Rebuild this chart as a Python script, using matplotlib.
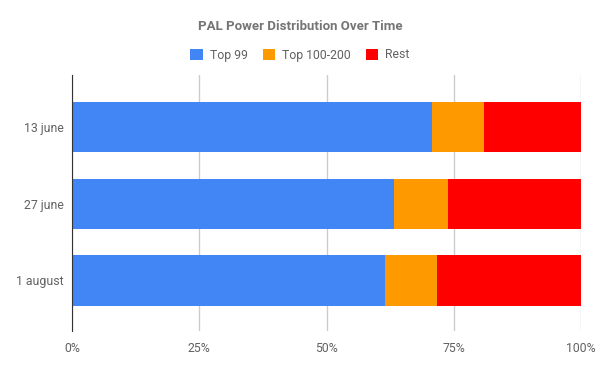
import matplotlib.pyplot as plt
from matplotlib.patches import Patch

categories = ['13 june', '27 june', '1 august']
top99 = [70.7, 63.2, 61.5]
top100_200 = [10.2, 10.7, 10.2]
rest = [19.1, 26.1, 28.3]

series_names = ['Top 99', 'Top 100-200', 'Rest']
colors = ['#4285f4', '#ff9900', '#ff0000']

plt.rcParams['font.family'] = ['Roboto', 'DejaVu Sans']

fig = plt.figure(figsize=(6, 3.71), dpi=100)
ax = fig.add_axes([72 / 600, 1 - 331 / 371, 509 / 600, 256 / 371])

y = list(range(len(categories)))
left = [0] * len(categories)
for vals, col in zip([top99, top100_200, rest], colors):
    ax.barh(y, vals, left=left, height=0.655, color=col, linewidth=0, zorder=2)
    left = [a + b for a, b in zip(left, vals)]

ax.set_xlim(0, 100)
ax.set_ylim(2.66, -0.68)
ax.set_yticks(y)
ax.set_yticklabels(categories)
ax.set_xticks([0, 25, 50, 75, 100])
ax.set_xticklabels(['0%', '25%', '50%', '75%', '100%'])
ax.tick_params(axis='both', length=0, labelsize=8.8, labelcolor='#616161')
ax.tick_params(axis='x', pad=8)
ax.tick_params(axis='y', pad=6)
ax.grid(axis='x', color='#cccccc', linewidth=1, zorder=0)
for s in ['top', 'right', 'bottom']:
    ax.spines[s].set_visible(False)
ax.spines['left'].set_color('#333333')
ax.spines['left'].set_zorder(3)

fig.text(0.5, 1 - 27 / 371, 'PAL Power Distribution Over Time', ha='center', va='center',
         fontsize=9.5, fontweight='bold', color='#757575')

handles = [Patch(facecolor=c, edgecolor='none', label=n) for c, n in zip(colors, series_names)]
fig.legend(handles=handles, loc='center', bbox_to_anchor=(0.5, 1 - 55 / 371), ncol=3,
           frameon=False, fontsize=8.8, labelcolor='#616161', handlelength=1.0, handleheight=1.0,
           handletextpad=0.6, columnspacing=1.2)

fig.savefig('out.png', dpi=100)
